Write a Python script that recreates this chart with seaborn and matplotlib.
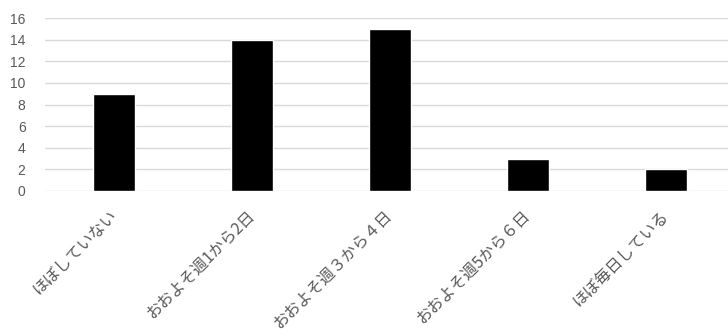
import matplotlib
matplotlib.use("Agg")
import matplotlib.pyplot as plt
import seaborn as sns
import pandas as pd

categories = ["ほぼしていない", "おおよそ週1から2日", "おおよそ週３から４日", "おおよそ週5から６日", "ほぼ毎日している"]
values = [9, 14, 15, 3, 2]
yticks = [0, 2, 4, 6, 8, 10, 12, 14, 16]

sns.set_theme(style="white")
plt.rcParams['font.family'] = ['Noto Sans CJK JP', 'DejaVu Sans']

df = pd.DataFrame({"cat": categories, "val": values})

fig = plt.figure(figsize=(7.28, 3.36), dpi=100)
ax = fig.add_axes([45/728, 145/336, 683/728, 173/336])
sns.barplot(data=df, x="cat", y="val", color="black", width=0.31, saturation=1, ax=ax, zorder=3)

ax.set_ylim(0, 16)
ax.set_yticks(yticks)
ax.set_xlim(-0.5, 4.45)
ax.grid(axis="y", color="#d9d9d9", linewidth=1, zorder=0)
ax.set_axisbelow(True)
for s in ax.spines.values():
    s.set_visible(False)
ax.set_xlabel("")
ax.set_ylabel("")
ax.tick_params(axis="both", length=0)
ax.tick_params(axis="y", colors="#595959", labelsize=10, pad=14)
ax.tick_params(axis="x", colors="#595959", labelsize=11.5, pad=16)
for lab in ax.get_xticklabels():
    lab.set_rotation(45)
    lab.set_ha("right")
    lab.set_va("center")
    lab.set_rotation_mode("anchor")
for lab in ax.get_yticklabels():
    lab.set_family(['Liberation Sans', 'DejaVu Sans'])

fig.savefig("out.png", dpi=100, facecolor="white")
